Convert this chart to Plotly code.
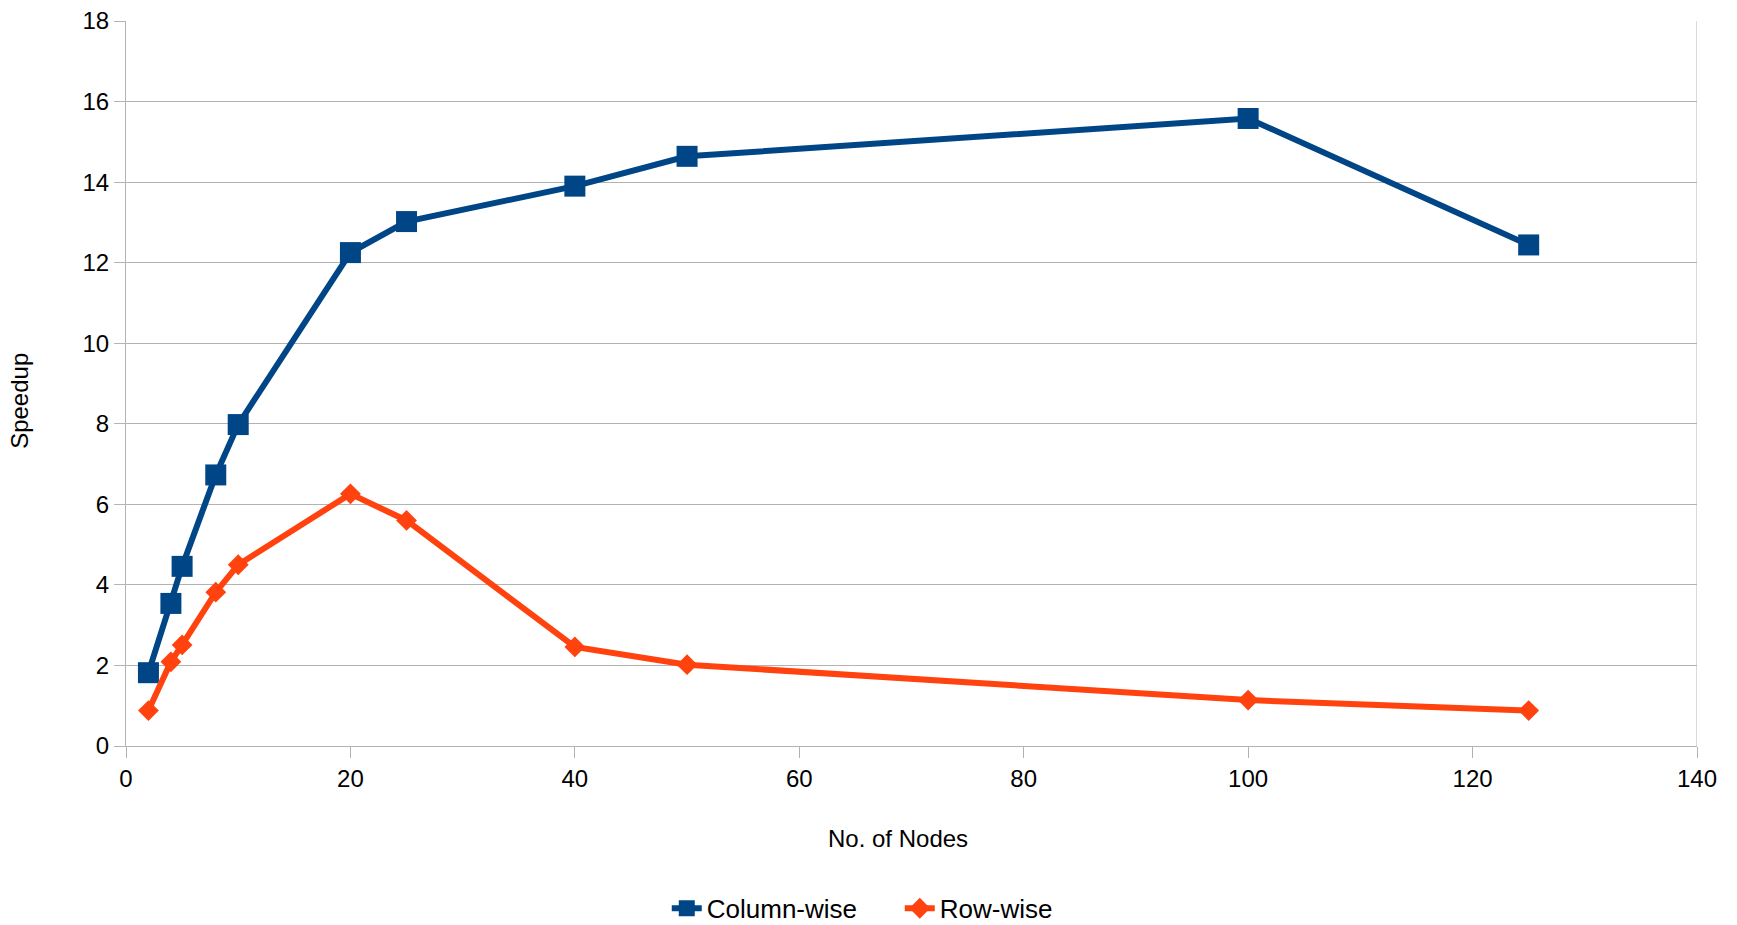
import plotly.graph_objects as go

# Number of nodes used in each run
nodes = [2, 4, 5, 8, 10, 20, 25, 40, 50, 100, 125]

# Measured speedup for the two partitioning strategies
column_wise = [1.82, 3.54, 4.46, 6.73, 7.98, 12.25, 13.02, 13.9, 14.64, 15.58, 12.44]
row_wise = [0.88, 2.09, 2.51, 3.82, 4.5, 6.26, 5.6, 2.46, 2.02, 1.14, 0.88]

x_ticks = [0, 20, 40, 60, 80, 100, 120, 140]
y_ticks = [0, 2, 4, 6, 8, 10, 12, 14, 16, 18]

BLUE = "#004586"
ORANGE = "#ff420e"
GRID = "#b3b3b3"
FONT = "Liberation Sans, Arial, sans-serif"

fig = go.Figure()
fig.add_trace(go.Scatter(
    x=nodes, y=column_wise, name="Column-wise", mode="lines+markers",
    line=dict(color=BLUE, width=6),
    marker=dict(symbol="square", size=21, color=BLUE),
))
fig.add_trace(go.Scatter(
    x=nodes, y=row_wise, name="Row-wise", mode="lines+markers",
    line=dict(color=ORANGE, width=6),
    marker=dict(symbol="diamond", size=16, color=ORANGE),
))

fig.update_layout(
    width=1737, height=925,
    margin=dict(l=126, r=40, t=21, b=179),
    paper_bgcolor="white", plot_bgcolor="white",
    font=dict(family=FONT, size=24, color="black"),
    showlegend=True,
    legend=dict(
        orientation="h", xref="container", yref="container",
        x=0.518, y=0.018, xanchor="center", yanchor="middle",
        font=dict(size=26), itemsizing="trace", entrywidth=188,
    ),
    annotations=[
        dict(text="No. of Nodes", xref="paper", yref="paper", x=0.4914, y=-0.1274,
             xanchor="center", yanchor="middle", showarrow=False, font=dict(size=24)),
        dict(text="Speedup", xref="paper", yref="paper", x=-0.0675, y=0.476,
             xanchor="center", yanchor="middle", showarrow=False, textangle=-90,
             font=dict(size=24)),
    ],
)
fig.update_xaxes(
    range=[0, 140], tickvals=x_ticks, ticks="outside", ticklen=11,
    tickcolor=GRID, tickwidth=1, showline=True, linecolor=GRID, linewidth=1,
    showgrid=False, zeroline=False, automargin=False,
    tickfont=dict(size=24),
)
fig.update_yaxes(
    range=[0, 18], tickvals=y_ticks, ticks="outside", ticklen=11,
    tickcolor=GRID, tickwidth=1, showline=True, linecolor=GRID, linewidth=1,
    showgrid=True, gridcolor=GRID, gridwidth=1, zeroline=False, automargin=False,
    tickfont=dict(size=24),
)
# right-hand frame line of the plot area
fig.add_shape(type="line", xref="x", yref="paper", x0=140, x1=140, y0=0, y1=1,
              line=dict(color=GRID, width=1), layer="below")

fig.write_html("out.html")
